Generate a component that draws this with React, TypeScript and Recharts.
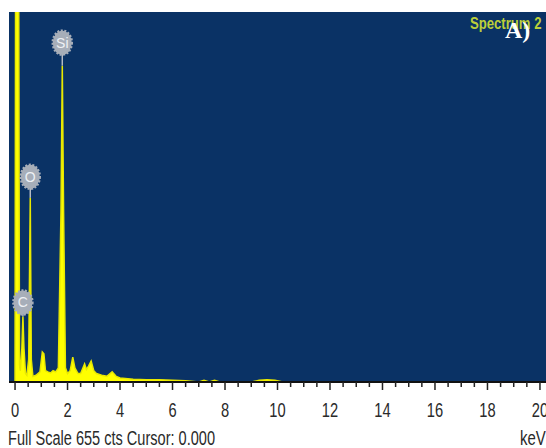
import React from "react"
import { AreaChart, Area, XAxis, YAxis, CartesianGrid, ReferenceDot } from "recharts"

// EDS spectrum, energy in keV vs counts
const energies = [
  0, 0.02, 0.14, 0.17, 0.2, 0.26, 0.3, 0.34, 0.4, 0.45, 0.52, 0.58, 0.62, 0.68,
  0.8, 0.95, 1.04, 1.1, 1.16, 1.25, 1.35, 1.45, 1.55, 1.65, 1.75, 1.8, 1.85, 1.92,
  2.0, 2.1, 2.2, 2.28, 2.4, 2.5, 2.65, 2.72, 2.8, 2.9, 3.0, 3.1, 3.3, 3.5, 3.7,
  3.85, 4.0, 4.5, 5.0, 5.5, 6.0, 6.5, 7.0, 7.2, 7.4, 7.6, 7.8, 9.0, 9.3, 9.6, 9.9,
  10.2, 20,
]
const counts = [
  0, 700, 700, 30, 20, 60, 116, 60, 15, 12, 40, 326, 40, 10,
  12, 18, 53, 50, 20, 18, 16, 20, 18, 25, 300, 560, 300, 25,
  15, 20, 44, 25, 15, 15, 32, 22, 28, 37, 20, 15, 12, 10, 18,
  10, 7, 5, 4, 4, 3, 2, 0, 3, 0, 3, 0, 0, 3, 4, 3,
  0, 0,
]

const elements = ["C", "O", "Si"]
const elementKev = [0.3, 0.58, 1.8]
const elementCounts = [116, 326, 560]
const badgeLift = [14, 21, 23]

const majorTicks = [0, 2, 4, 6, 8, 10, 12, 14, 16, 18, 20]
const allTicks = Array.from({ length: 41 }, (_, i) => i * 0.5)

const FULL_SCALE = 655

const spectrum = energies.map((kev, i) => ({ kev, cts: counts[i] }))

const sans = "'Liberation Sans', Arial, sans-serif"

function KevTick(props: any) {
  const { x, y, payload } = props
  const major = majorTicks.includes(payload.value)
  return (
    <g>
      <line x1={x} x2={x} y1={y} y2={y + (major ? 8 : 5)} stroke="#222" strokeWidth={1.5} />
      {major && (
        <text
          transform={`translate(${x},${y + 35}) scale(0.7,1)`}
          textAnchor="middle"
          fontFamily={sans}
          fontSize={21}
          fill="#2a2a2a"
        >
          {payload.value}
        </text>
      )}
    </g>
  )
}

function badge(label: string, lift: number) {
  return (props: any) => {
    const { cx, cy } = props
    const by = cy - lift
    return (
      <g>
        <line x1={cx} x2={cx} y1={by + 10} y2={cy} stroke="#b4bac4" strokeWidth={1.5} />
        <ellipse cx={cx} cy={by} rx={9.5} ry={12} fill="#a7aeb9" stroke="#a7aeb9" strokeWidth={2.5} strokeDasharray="2 1.5" />
        <text x={cx} y={by + 5} textAnchor="middle" fontFamily={sans} fontSize={14} fill="#eef1f5">
          {label}
        </text>
      </g>
    )
  }
}

export default function App() {
  return (
    <div style={{ position: "absolute", left: 0, top: 0, width: 546, height: 448, background: "#fff", overflow: "hidden" }}>
      <AreaChart width={546} height={448} data={spectrum} margin={{ top: 12, right: 0, left: 9, bottom: 0 }}>
        <CartesianGrid fill="#0a3265" horizontal={false} vertical={false} />
        <XAxis
          dataKey="kev"
          type="number"
          domain={[-0.23, 20.23]}
          ticks={allTicks}
          interval={0}
          height={66}
          tickSize={0}
          tickMargin={0}
          axisLine={{ stroke: "#111", strokeWidth: 2 }}
          tick={<KevTick />}
          allowDataOverflow
        />
        <YAxis hide domain={[0, FULL_SCALE]} allowDataOverflow />
        <Area
          type="linear"
          dataKey="cts"
          stroke="#e8e800"
          strokeWidth={1.5}
          fill="#ffff00"
          fillOpacity={1}
          isAnimationActive={false}
        />
        {elements.map((el, i) => (
          <ReferenceDot key={el} x={elementKev[i]} y={elementCounts[i]} shape={badge(el, badgeLift[i])} />
        ))}
      </AreaChart>
      <svg width={546} height={448} style={{ position: "absolute", left: 0, top: 0, pointerEvents: "none" }}>
        <text transform="translate(470,29) scale(0.82,1)" fontFamily={sans} fontWeight="bold" fontSize={16} fill="#bccf3a">
          Spectrum 2
        </text>
        <text x={505} y={38} fontFamily="'Liberation Serif', serif" fontWeight="bold" fontSize={24} fill="#fff">A)</text>
        <text x={8} y={445} fontFamily={sans} fontSize={20} fill="#2a2a2a" textLength={207} lengthAdjust="spacingAndGlyphs">
          Full Scale 655 cts Cursor: 0.000
        </text>
        <text transform="translate(520,445) scale(0.75,1)" fontFamily={sans} fontSize={20} fill="#2a2a2a">keV</text>
      </svg>
    </div>
  )
}
